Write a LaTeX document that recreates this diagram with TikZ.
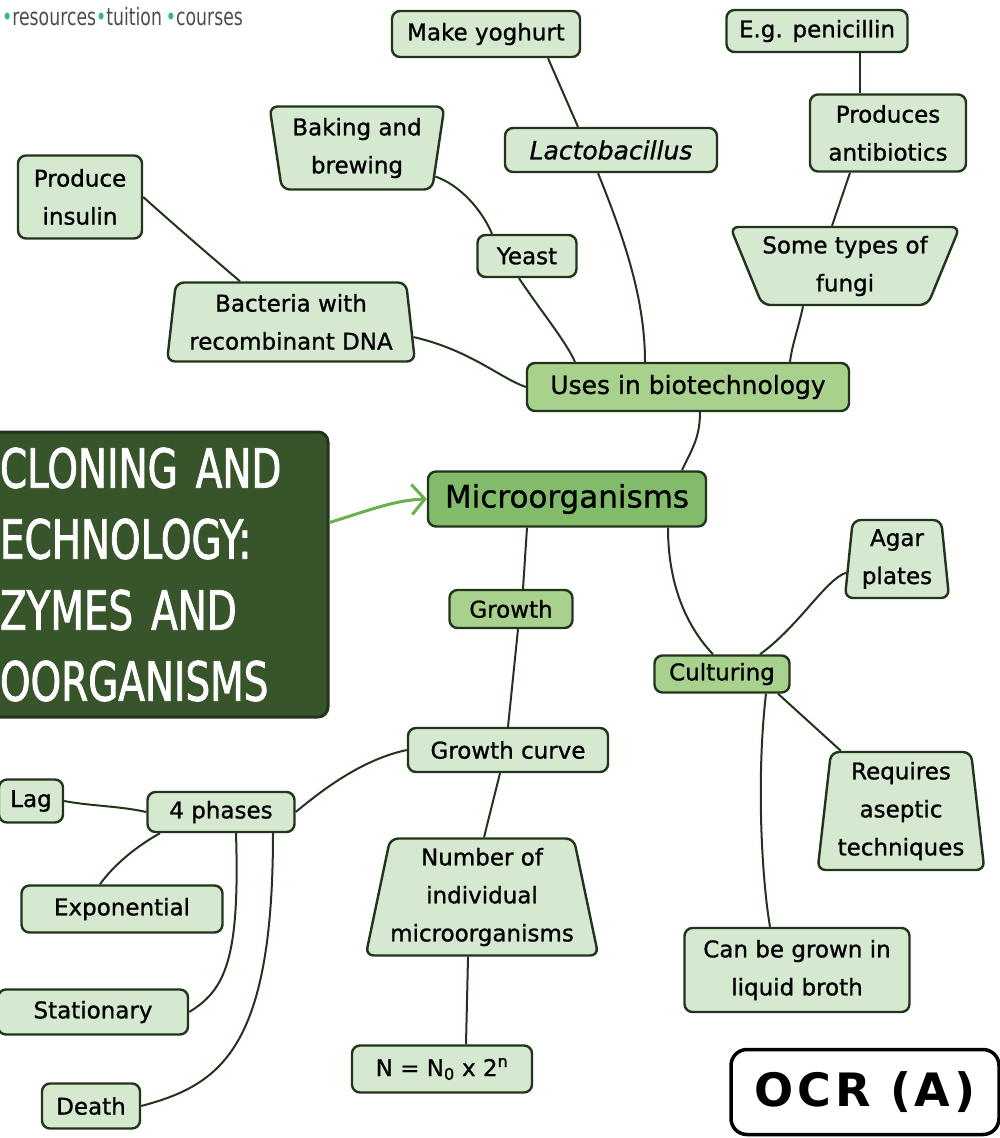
\documentclass[tikz,border=0pt]{standalone}
\usepackage{fontspec}
\setmainfont{DejaVu Sans}
\newfontfamily\nodefont[FakeBold=1]{DejaVu Sans}
\newfontfamily\titlefont[FakeStretch=0.72,FakeBold=1.5]{DejaVu Sans}
\newfontfamily\logofont[FakeStretch=0.72]{DejaVu Sans}
\newfontfamily\ocrfont[LetterSpace=8]{DejaVu Sans}
\usetikzlibrary{shapes.geometric,arrows.meta}
\definecolor{lightg}{HTML}{D5E8D0}
\definecolor{midg}{HTML}{A9D18E}
\definecolor{maing}{HTML}{82BB6A}
\definecolor{darkg}{HTML}{38542A}
\definecolor{edgec}{HTML}{22351C}
\definecolor{arrowg}{HTML}{6AB04C}
\definecolor{logogray}{HTML}{4D4D4D}
\definecolor{tealc}{HTML}{2BB5A5}
\begin{document}
\begin{tikzpicture}[x=1pt,y=-1pt,
  box/.style={draw=edgec, line width=2.4pt, fill=lightg, rounded corners=8pt, align=center, inner sep=0pt, text=black, font=\nodefont\fontsize{23}{38}\selectfont},
  midbox/.style={box, fill=midg},
  sz/.style 2 args={minimum width=#1, minimum height=#2},
  trapbox/.style={box, trapezium, trapezium stretches=true, trapezium left angle=#1, trapezium right angle=#1},
  invtrap/.style={trapbox=#1, shape border rotate=180},
  link/.style={draw=edgec, line width=2pt},
]
\useasboundingbox (0,0) rectangle (1000,1138);
\fill[white] (0,0) rectangle (1000,1138);
\clip (0,0) rectangle (1000,1138);

% logo
\node[anchor=west, inner sep=0pt, font=\logofont\fontsize{24}{24}\selectfont, text=logogray] (logo) at (2,17)
  {{\color{tealc}•}resources{\color{tealc}•}tuition\,{\color{tealc}•}courses};

% title
\node[draw=edgec, line width=3pt, fill=darkg, rounded corners=10pt, minimum width=350, minimum height=285,
  text width=306, align=left, inner sep=0pt, text=white, font=\titlefont\fontsize{54}{71}\selectfont]
  (title) at (153,574.5) {CLONING AND\\ECHNOLOGY:\\ZYMES AND\\OORGANISMS};

% nodes
\node[box, sz={188}{46}] (yog) at (486,34) {Make yoghurt};
\node[box, sz={181}{42}] (pen) at (817,31) {E.g. penicillin};
\node[box, sz={212}{44}, font=\nodefont\fontsize{25}{38}\selectfont\itshape] (lacto) at (611,150) {Lactobacillus};
\node[box, sz={156}{77}] (anti) at (888,133) {Produces\\antibiotics};
\node[invtrap=80, sz={175}{83}] (bake) at (357,148) {Baking and\\brewing};
\node[box, sz={124}{83}] (ins) at (80,197) {Produce\\insulin};
\node[box, sz={99}{42}] (yeast) at (527,256) {Yeast};
\node[invtrap=62, sz={214}{78}] (fungi) at (845,266) {Some types of\\fungi};
\node[trapbox=82, sz={248}{79}] (bact) at (291,322) {Bacteria with\\recombinant DNA};
\node[midbox, sz={322}{48}, font=\nodefont\fontsize{25}{38}\selectfont] (uses) at (688,387) {Uses in biotechnology};
\node[box, fill=maing, sz={278}{55}, font=\nodefont\fontsize{31}{38}\selectfont] (micro) at (567,499) {Microorganisms};
\node[trapbox=84, sz={105}{78}] (agar) at (897,559) {Agar\\plates};
\node[midbox, sz={123}{38}] (growth) at (511,609) {Growth};
\node[midbox, sz={135}{37}] (cult) at (722,674) {Culturing};
\node[box, sz={200}{44}] (gcurve) at (508,750) {Growth curve};
\node[box, sz={64}{43}] (lag) at (31,801) {Lag};
\node[box, sz={147}{40}] (four) at (221,812) {4 phases};
\node[trapbox=83, sz={167}{118}] (asep) at (901,811) {Requires\\aseptic\\techniques};
\node[trapbox=76, sz={228}{117}] (num) at (482,897) {Number of\\individual\\microorganisms};
\node[box, sz={201}{47}] (expo) at (122,909) {Exponential};
\node[box, sz={225}{84}] (broth) at (797,970) {Can be grown in\\liquid broth};
\node[box, sz={190}{45}] (stat) at (93,1012) {Stationary};
\node[box, sz={180}{47}] (nform) at (442,1069) {N = N\textsubscript{0} x 2\textsuperscript{n}};
\node[box, sz={98}{45}] (death) at (91,1106) {Death};
\node[draw=black, line width=3.5pt, fill=white, rounded corners=16pt, sz={268}{85}, inner sep=0pt,
  font=\ocrfont\bfseries\fontsize{46}{56}\selectfont] (ocr) at (865,1092) {OCR (A)};

% arrow
\draw[arrowg, line width=3pt, -{Straight Barb[length=13pt,width=30pt]}]
  ([yshift=52pt]title.east) .. controls (370,510) and (395,500) .. (micro.west);

% connectors
\draw[link] ([xshift=62]yog.south) -- ([xshift=-33]lacto.north);
\draw[link] ([xshift=-13]lacto.south) .. controls (625,240) and (645,300) .. ([xshift=-43]uses.north);
\draw[link] ([xshift=43]pen.south) -- ([xshift=-28]anti.north);
\draw[link] ([xshift=-38]anti.south) -- ([xshift=-13]fungi.north);
\draw[link] ([xshift=-42]fungi.south) .. controls (798,330) and (792,345) .. ([xshift=102]uses.north);
\draw[link] (bake.-20) .. controls (460,185) and (482,210) .. ([xshift=-35]yeast.north);
\draw[link] ([xshift=-8]yeast.south) .. controls (540,310) and (565,340) .. ([xshift=-113]uses.north);
\draw[link] (ins.east) .. controls (180,230) and (215,260) .. ([xshift=-51]bact.north);
\draw[link] (bact.-7) .. controls (470,350) and (500,378) .. (uses.west);
\draw[link] ([xshift=12]uses.south) .. controls (700,440) and (690,452) .. ([xshift=115]micro.north);
\draw[link] ([xshift=-40]micro.south) -- ([xshift=12]growth.north);
\draw[link] ([xshift=101]micro.south) .. controls (668,590) and (690,630) .. ([xshift=-9]cult.north);
\draw[link] ([xshift=38]cult.north) .. controls (800,625) and (825,580) .. (agar.-165);
\draw[link] ([xshift=56]cult.south) -- (asep.north west);
\draw[link] ([xshift=44]cult.south) .. controls (756,780) and (762,880) .. ([xshift=-27]broth.north);
\draw[link] ([xshift=7]growth.south) -- (gcurve.north);
\draw[link] ([xshift=-8]gcurve.south) -- ([xshift=2]num.north);
\draw[link] ([xshift=-14]num.south) -- ([xshift=24]nform.north);
\draw[link] (gcurve.west) .. controls (360,760) and (320,792) .. (four.east);
\draw[link] (four.west) .. controls (120,806) and (90,806) .. (lag.east);
\draw[link] ([xshift=-61]four.south) .. controls (130,850) and (110,870) .. ([xshift=-22]expo.north);
\draw[link] ([xshift=15]four.south) .. controls (240,960) and (225,990) .. (stat.east);
\draw[link] ([xshift=52]four.south) .. controls (273,1050) and (220,1085) .. (death.east);
\end{tikzpicture}
\end{document}
